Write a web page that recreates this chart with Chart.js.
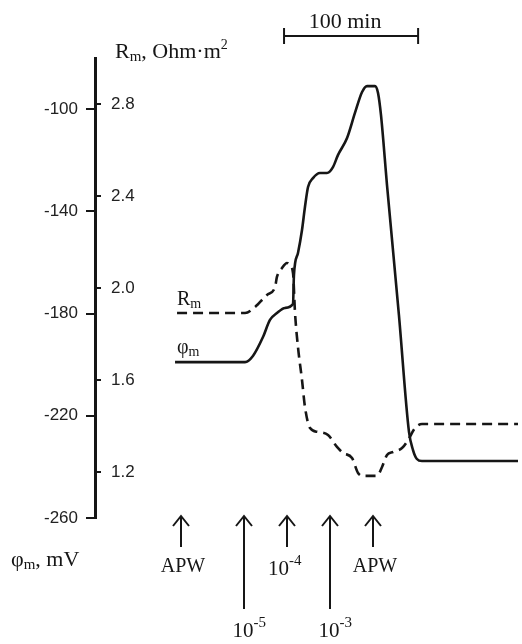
<!DOCTYPE html>
<html>
<head>
<meta charset="utf-8">
<script src="https://cdn.jsdelivr.net/npm/chart.js@4"></script>
<style>
  html, body { margin: 0; padding: 0; background: #fff; }
  #wrap { width: 522px; height: 644px; position: relative; }
</style>
</head>
<body>
<div id="wrap"><canvas id="chart"></canvas></div>
<script>
// time in minutes, counted from the axis line
var phiTime = [59.7, 111.9, 117.8, 125.3, 130.5, 135.7, 141.7, 147.7, 148.4, 151.4, 154.4, 156.6,
               158.9, 162.6, 167.8, 173.0, 177.5, 181.2, 188.0, 193.9, 199.2, 202.9, 208.8, 211.1,
               213.3, 217.8, 226.7, 234.2, 237.2, 240.1, 243.9, 315.5];
// membrane potential, mV
var phiValues = [-199, -199, -196.6, -189.2, -182.5, -179.8, -177.8, -176.3, -164.9, -156.3, -147.3, -138.3,
                 -130.5, -127.0, -125.0, -125.0, -122.7, -118.0, -111.3, -101.5, -93.3, -91.0, -91.0, -93.7,
                 -102.3, -129.7, -180.6, -226.3, -233.4, -236.9, -237.7, -237.7];

var rmTime = [61.2, 111.9, 119.3, 128.3, 134.3, 135.7, 139.5, 143.2, 145.4, 147.7, 149.2, 151.4,
              154.4, 156.6, 160.4, 166.3, 173.8, 180.5, 185.0, 191.7, 196.2, 199.9, 210.3, 214.1,
              217.8, 222.3, 229.0, 233.5, 238.7, 243.9, 315.5];
// membrane resistance, Ohm*m2
var rmValues = [1.891, 1.891, 1.917, 1.970, 2.004, 2.048, 2.087, 2.109, 2.100, 2.065, 1.891, 1.743,
                1.600, 1.483, 1.391, 1.374, 1.361, 1.309, 1.283, 1.261, 1.196, 1.183, 1.183, 1.222,
                1.274, 1.287, 1.304, 1.339, 1.391, 1.409, 1.409];

var phiTicks = [-260, -220, -180, -140, -100];
var rmTicks = [1.2, 1.6, 2.0, 2.4, 2.8];

// additions marked with arrows under the traces
var arrowTime = [64, 111, 143, 175, 207];
var arrowText = ['APW', '10', '10', '10', 'APW'];
var arrowPower = ['', '-5', '-4', '-3', ''];

var scaleBarStart = 141;
var scaleBarMinutes = 100;

var ink = '#161616';
var serif = '"Liberation Serif", "Times New Roman", serif';
var sans = '"Liberation Sans", Arial, sans-serif';

function pairs(xs, ys) {
  return xs.map(function (t, i) { return { x: t, y: ys[i] }; });
}

function line(ctx, x1, y1, x2, y2) {
  ctx.beginPath();
  ctx.moveTo(x1, y1);
  ctx.lineTo(x2, y2);
  ctx.stroke();
}

// parts: [text, font size, vertical shift]
function rich(ctx, x, y, parts, align) {
  var w = 0;
  parts.forEach(function (p) {
    ctx.font = p[1] + 'px ' + serif;
    w += ctx.measureText(p[0]).width;
  });
  if (align === 'center') x -= w / 2;
  parts.forEach(function (p) {
    ctx.font = p[1] + 'px ' + serif;
    ctx.fillText(p[0], x, y + (p[2] || 0));
    x += ctx.measureText(p[0]).width;
  });
}

var decor = {
  id: 'decor',
  afterDraw: function (chart) {
    var ctx = chart.ctx;
    var xs = chart.scales.x;
    var rs = chart.scales.y2;
    var area = chart.chartArea;
    ctx.save();
    ctx.strokeStyle = ink;
    ctx.fillStyle = ink;
    ctx.lineWidth = 2;
    ctx.textAlign = 'left';
    ctx.textBaseline = 'alphabetic';

    // Rm ticks sit on the right side of the shared axis line
    rmTicks.forEach(function (v) {
      var py = Math.round(rs.getPixelForValue(v));
      line(ctx, area.left, py, area.left + 6, py);
    });

    // axis titles
    rich(ctx, 115, 58, [['R', 22], ['m', 15, 3], [', Ohm\u00b7m', 22], ['2', 14, -9]]);
    rich(ctx, 11, 566, [['\u03c6', 22], ['m', 15, 3], [', mV', 22]]);

    // trace labels
    rich(ctx, 177, 305, [['R', 20], ['m', 14, 3]]);
    rich(ctx, 177, 353, [['\u03c6', 20], ['m', 14, 3]]);

    // time scale bar
    var b1 = xs.getPixelForValue(scaleBarStart);
    var b2 = xs.getPixelForValue(scaleBarStart + scaleBarMinutes);
    line(ctx, b1, 36, b2, 36);
    line(ctx, b1, 28, b1, 44);
    line(ctx, b2, 28, b2, 44);
    rich(ctx, (b1 + b2) / 2 - 6, 28, [['100 min', 22]], 'center');

    // arrows with what was added
    var top = 516;
    arrowTime.forEach(function (t, i) {
      var px = Math.round(xs.getPixelForValue(t));
      var long = i === 1 || i === 3;
      var bottom = long ? 609 : 547;
      line(ctx, px, top + 1, px, bottom);
      ctx.beginPath();
      ctx.moveTo(px - 8, top + 10);
      ctx.lineTo(px, top);
      ctx.lineTo(px + 8, top + 10);
      ctx.stroke();
      if (arrowPower[i]) {
        var base = long ? 637 : 575;
        ctx.font = '21px ' + serif;
        var w = ctx.measureText(arrowText[i]).width;
        var left = long ? px - w / 2 - 1 : px - 19;
        rich(ctx, left, base, [[arrowText[i], 21], [arrowPower[i], 15, -10]]);
      } else {
        rich(ctx, px + 2, 572, [[arrowText[i], 20]], 'center');
      }
    });
    ctx.restore();
  }
};

new Chart(document.getElementById('chart'), {
  type: 'line',
  data: {
    datasets: [
      {
        label: 'phi',
        data: pairs(phiTime, phiValues),
        yAxisID: 'y',
        borderColor: ink,
        borderWidth: 2.6,
        pointRadius: 0,
        cubicInterpolationMode: 'monotone'
      },
      {
        label: 'Rm',
        data: pairs(rmTime, rmValues),
        yAxisID: 'y2',
        borderColor: ink,
        borderWidth: 2.6,
        borderDash: [10, 6],
        pointRadius: 0,
        cubicInterpolationMode: 'monotone'
      }
    ]
  },
  options: {
    responsive: true,
    maintainAspectRatio: false,
    animation: false,
    layout: { padding: { left: 35, top: 58, right: 2, bottom: 126 } },
    plugins: { legend: { display: false }, tooltip: { enabled: false } },
    scales: {
      x: { type: 'linear', min: 0, max: 317, display: false },
      y: {
        position: 'left',
        weight: 1,
        min: -260,
        max: -80,
        afterBuildTicks: function (s) { s.ticks = phiTicks.map(function (v) { return { value: v }; }); },
        afterFit: function (s) { s.width = 60; },
        border: { color: ink, width: 3 },
        grid: { drawOnChartArea: false, color: ink, lineWidth: 2, tickLength: 9 },
        ticks: {
          padding: 8,
          color: '#222',
          font: { family: sans, size: 17 },
          callback: function (v) { return String(v); }
        }
      },
      y2: {
        position: 'left',
        weight: 0,
        min: 1.0,
        max: 3.0,
        afterBuildTicks: function (s) { s.ticks = rmTicks.map(function (v) { return { value: v }; }); },
        afterFit: function (s) { s.width = 0; },
        border: { display: false },
        grid: { display: false, drawTicks: false },
        ticks: {
          mirror: true,
          padding: 16,
          color: '#222',
          font: { family: sans, size: 17 },
          callback: function (v) { return v.toFixed(1); }
        }
      }
    }
  },
  plugins: [decor]
});
</script>
</body>
</html>
